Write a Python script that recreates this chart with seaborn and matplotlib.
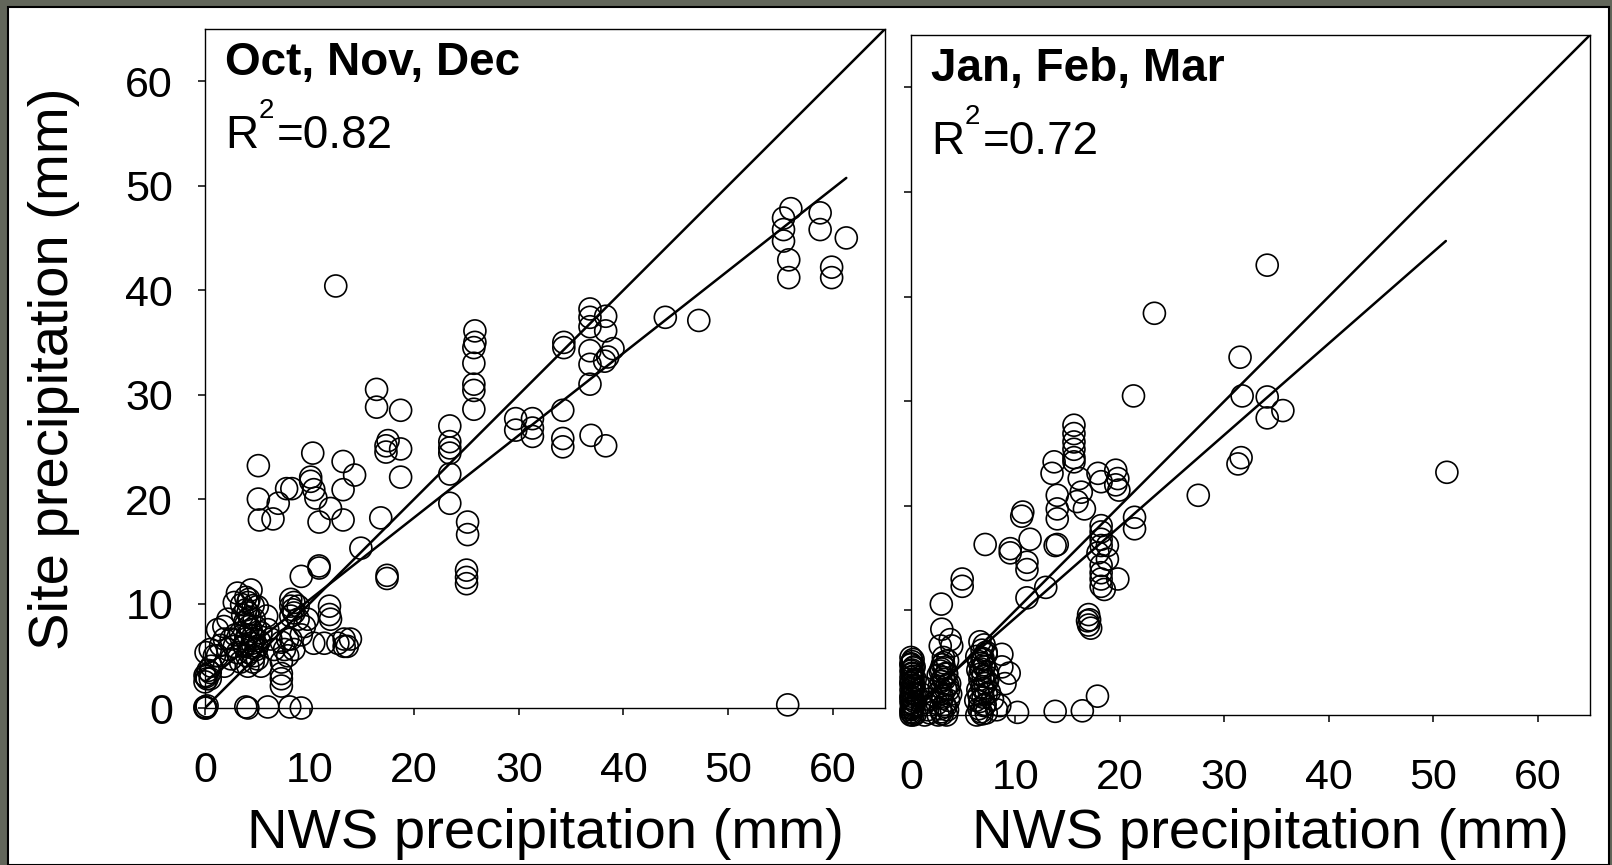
import matplotlib

matplotlib.use("Agg")

import matplotlib.pyplot as plt
import numpy as np
import seaborn as sns
from matplotlib.patches import Rectangle

# Oct, Nov, Dec: NWS precipitation vs site precipitation (mm)
ond_nws = [
    0, 0, 0.1, 0.2, 3.9, 4.1, 6.0, 8.1, 9.2, 55.7,
    0, 0, 0.2, 0.1, 0.5, 0.5, 0.6, 0.5, 0.9, 1.2, 1.5, 1.2, 1.8, 2.2, 1.85, 1.85, 2.2,
    2.5, 2.5, 2.8, 2.8, 3.1, 3.1, 3.4, 3.4, 3.8, 3.8, 3.9, 3.9, 4.1, 4.1, 4.1, 4.2, 4.2,
    4.2, 4.4, 4.4, 4.6, 4.6, 4.7, 4.7, 4.7, 4.9, 5.0, 5.0, 5.0, 5.35, 5.35, 5.9, 6.0,
    6.3, 6.6,
    3.6, 3.9, 4.3, 4.5, 4.0, 3.7, 4.4, 4.8, 3.5, 4.1, 4.6, 3.9, 2.9, 5.2, 0.1, 0.3,
    7.3, 7.3, 7.3, 7.3, 7.3, 7.6, 7.9, 7.9,
    8.2, 8.5, 9.2, 8.2, 8.5, 8.2, 8.4, 8.5, 8.9, 8.2, 8.9, 9.8, 9.5, 9.2, 10.9,
    11.9, 11.9, 12.0, 10.4, 11.4, 12.7, 13.3, 13.6, 13.3, 13.9,
    5.1, 5.1, 5.2, 6.5, 7.0, 7.8, 8.3,
    10.3, 13.2, 14.3, 13.2, 10.1, 10.1, 10.4, 10.6, 12.0, 13.2, 10.9, 16.8, 14.9, 10.9,
    12.5,
    16.4, 16.4, 18.7, 17.5, 17.3, 17.3, 18.7, 18.7, 17.4, 17.4,
    23.4, 23.4, 23.4, 23.4, 23.4, 23.4, 25.1, 25.1, 25.0, 25.0, 25.0,
    25.8, 25.8, 25.7, 25.7, 25.7, 25.7, 25.7,
    29.7, 29.7, 31.3, 31.3, 31.3,
    34.3, 34.3, 34.2, 34.2, 34.2,
    36.8, 36.8, 38.3, 36.8, 38.3, 36.8, 36.8, 39.0, 38.2, 38.5, 36.8, 36.9, 38.3,
    44.0, 47.2,
    56.0, 55.3, 55.3, 55.3, 55.8, 55.8, 58.8, 58.8, 61.3, 59.9, 59.9,
]
ond_site = [
    0, 0.1, 0, 0.2, 0.1, 0, 0.1, 0.1, 0, 0.3,
    2.5, 3.1, 2.8, 5.3, 3.4, 2.8, 4.0, 5.6, 5.0, 5.0, 6.0, 7.5, 7.8, 8.5, 6.6, 4.0, 5.6,
    4.7, 6.6, 5.9, 10.1, 11.0, 5.3, 7.2, 4.4, 8.2, 5.9, 9.4, 6.6, 10.1, 9.1, 4.0, 10.4, 7.8,
    5.3, 11.3, 7.5, 9.8, 6.9, 8.5, 6.6, 5.0, 5.6, 9.7, 5.9, 4.7, 7.2, 4.0, 8.8, 7.5,
    6.6, 5.6,
    8.9, 8.0, 8.7, 6.2, 5.0, 6.0, 5.8, 7.8, 9.9, 7.0, 4.4, 10.6, 7.0, 6.4, 3.0, 3.6,
    6.3, 4.4, 3.3, 2.8, 2.1, 5.6, 6.6, 5.0,
    6.6, 5.6, 7.0, 9.75, 10.1, 10.4, 9.4, 9.1, 9.75, 8.8, 8.5, 8.5, 7.8, 12.6, 13.6,
    9.75, 8.95, 8.5, 6.2, 6.2, 6.2, 6.6, 5.9, 5.9, 6.6,
    23.2, 20.0, 18.0, 18.1, 19.6, 21.0, 21.0,
    24.4, 23.6, 22.3, 20.9, 22.1, 21.7, 20.9, 20.1, 19.1, 18.0, 17.8, 18.2, 15.3, 13.4,
    40.4,
    30.5, 28.8, 28.5, 25.6, 25.1, 24.5, 24.8, 22.1, 12.7, 12.4,
    27.0, 25.5, 24.9, 24.4, 22.4, 19.6, 17.8, 16.6, 13.2, 12.5, 11.9,
    36.1, 35.0, 34.5, 33.0, 31.0, 30.4, 28.6,
    27.7, 26.6, 27.7, 26.8, 26.0,
    35.0, 34.5, 28.5, 25.8, 25.0,
    38.2, 37.4, 37.5, 36.5, 36.1, 34.2, 32.9, 34.4, 33.2, 33.6, 31.0, 26.1, 25.1,
    37.4, 37.1,
    47.8, 46.9, 45.8, 44.7, 42.9, 41.2, 47.4, 45.8, 45.0, 42.2, 41.2,
]

# Jan, Feb, Mar
jfm_nws = [
    0, 0.2, 0, 0.1, 0.3, 0, 0.2, 0, 0.1, 0, 0.3, 0, 0.2, 0, 0.1, 0, 0.2, 0, 0.1, 0,
    0.1, 0, 0.2, 0.1, 0, 0.3, 0.1, 0, 0.2, 0.1, 0, 0.2,
    0.4, 0.1, 0.3, 0.5, 0.2, 0.4, 0.1, 0.3,
    1.3, 1.6, 1.4, 1.0, 1.8, 1.2, 1.7,
    2.6, 3.0, 3.4, 2.8, 3.2, 3.6, 3.0, 2.7, 3.3, 3.5, 2.9, 3.1, 3.4, 2.8, 3.2, 3.0, 3.5, 3.1,
    2.9, 3.3, 3.0, 3.6, 2.7, 3.2, 3.4, 2.9, 3.1, 3.5, 3.8, 2.5, 3.7, 2.6,
    6.3, 6.8, 7.2, 6.5, 7.0, 6.6, 6.9, 7.2, 6.4, 6.8, 7.1, 6.6, 6.9, 7.3, 6.7, 7.0, 6.5,
    6.9, 7.2, 6.8, 7.0, 6.6, 8.2, 7.8, 8.5,
    6.7, 7.1, 6.5, 6.9, 7.3, 6.6, 7.0, 6.8, 7.2, 6.4, 7.5, 6.2, 7.4, 6.3,
    10.2, 13.8, 16.4, 17.85, 8.7, 8.7, 9.4, 9.0,
    2.8, 3.9, 3.75, 2.95, 2.9, 4.9, 4.9, 7.1, 9.5, 11.1, 11.1, 13.8, 12.9, 11.1,
    17.0, 17.1, 17.0, 17.2, 16.9,
    18.2, 18.2, 18.2, 18.8, 19.8, 17.9, 18.8, 18.2, 18.5,
    18.2, 18.2, 18.2, 18.2,
    21.4, 21.4,
    19.6, 19.8, 19.6, 19.9, 17.9, 18.2, 16.1, 16.3, 15.9, 16.6,
    15.6, 15.6, 15.6, 15.6, 15.6, 15.6,
    13.7, 13.5, 14.0, 14.0, 14.0,
    10.7, 10.6, 11.4, 14.0, 9.5,
    23.3, 31.5, 21.3, 31.7, 34.1, 35.6, 34.1, 31.6, 31.3, 27.5, 51.3, 34.1,
]
jfm_site = [
    0, 0, 0.3, 0.6, 0.9, 1.2, 1.5, 1.8, 2.1, 2.4, 2.7, 3.0, 3.3, 3.6, 3.9, 4.2, 4.5, 4.8, 5.1, 5.5,
    0.2, 0.5, 0.8, 1.1, 1.6, 2.0, 2.6, 3.1, 3.7, 4.3, 4.9, 5.3,
    0.1, 0.7, 1.3, 1.9, 2.8, 3.4, 4.0, 4.6,
    0, 0.5, 1.2, 2.0, 0.2, 2.6, 1.5,
    0, 0.1, 0, 0.6, 1.0, 1.4, 1.8, 2.2, 2.5, 2.9, 3.2, 3.6, 3.9, 4.2, 4.5, 4.8, 5.2, 5.5,
    0.3, 0.8, 1.6, 2.4, 2.7, 3.4, 4.0, 4.4, 5.0, 0.5, 2.0, 1.1, 3.0, 3.8,
    0, 0.1, 0.2, 0.6, 0.9, 1.3, 1.7, 2.0, 2.4, 2.7, 3.0, 3.4, 3.7, 4.1, 4.4, 4.8, 5.1,
    5.4, 5.8, 6.2, 6.7, 7.0, 0.5, 1.5, 0.9,
    0.3, 1.0, 1.9, 2.5, 3.2, 3.9, 4.6, 5.3, 6.0, 4.3, 2.2, 1.4, 3.6, 5.6,
    0.25, 0.35, 0.4, 1.8, 5.8, 4.6, 4.0, 3.0,
    6.6, 6.6, 7.2, 8.2, 10.6, 13.0, 12.3, 16.3, 15.5, 14.6, 13.9, 16.2, 12.2, 11.2,
    9.6, 9.1, 8.6, 8.3, 9.0,
    14.3, 13.6, 13.0, 14.9, 13.0, 15.5, 16.2, 12.3, 12.0,
    18.1, 17.5, 16.8, 16.2,
    18.9, 17.8,
    23.4, 22.6, 22.0, 21.5, 23.1, 22.3, 22.6, 21.3, 20.4, 19.7,
    27.7, 26.9, 26.1, 25.4, 24.6, 24.2,
    24.2, 23.1, 21.0, 19.7, 18.75,
    19.4, 19.0, 16.8, 16.3, 15.9,
    38.4, 34.2, 30.5, 30.5, 30.4, 29.1, 28.4, 24.6, 24.0, 21.0, 23.2, 43.0,
]

# fitted lines: intercept, slope, last NWS value
ond_fit = (2.5, 0.787, 61.3)
jfm_fit = (0.56, 0.874, 51.2)
ond_r2 = "0.82"
jfm_r2 = "0.72"
axis_max = 65
tick_values = [0, 10, 20, 30, 40, 50, 60]

sns.set_style("ticks")
plt.rcParams["font.family"] = ["Liberation Sans", "DejaVu Sans"]
plt.rcParams["text.color"] = "black"
plt.rcParams["axes.labelcolor"] = "black"
plt.rcParams["xtick.color"] = "black"
plt.rcParams["ytick.color"] = "black"

fig = plt.figure(figsize=(16.12, 8.65), dpi=100, facecolor="#62665a")
fig.add_artist(
    Rectangle((8 / 1612, 0), 1601 / 1612, 1 - 7 / 865, transform=fig.transFigure,
              facecolor="white", edgecolor="black", linewidth=1.5, zorder=-5)
)

ax_ond = fig.add_axes([205 / 1612, 1 - 708 / 865, 680 / 1612, 679 / 865])
ax_jfm = fig.add_axes([911 / 1612, 1 - 715 / 865, 679 / 1612, 680 / 865])


def draw_panel(ax, nws, site, fit, season, r2):
    sns.scatterplot(x=nws, y=site, ax=ax, s=250, marker="o", facecolors="none",
                    edgecolor="black", linewidth=1.2, zorder=2, clip_on=False)
    one_to_one = [0, axis_max]
    sns.lineplot(x=one_to_one, y=one_to_one, ax=ax, color="black", linewidth=1.8, zorder=3)
    intercept, slope, x_end = fit
    fit_x = np.array([0, x_end])
    sns.lineplot(x=fit_x, y=intercept + slope * fit_x, ax=ax, color="black", linewidth=1.8, zorder=3)

    ax.set_xlim(0, axis_max)
    ax.set_ylim(0, axis_max)
    ax.set_xticks(tick_values)
    ax.set_yticks(tick_values)
    ax.tick_params(direction="out", length=5, width=1.1, color="black", labelsize=31)
    ax.tick_params(axis="x", pad=26)
    ax.tick_params(axis="y", pad=18)
    for spine in ax.spines.values():
        spine.set_linewidth(1.0)
        spine.set_color("black")

    ax.text(0.03, 0.932, season, transform=ax.transAxes, fontsize=33,
            fontweight="bold", va="baseline", ha="left")
    # R squared, with a raised "2" as in the original slide
    ax.annotate("R", xy=(0.03, 0.825), xycoords="axes fraction", fontsize=33,
                va="baseline", ha="left")
    ax.annotate("2", xy=(0.03, 0.825), xycoords="axes fraction", xytext=(24, 21.5),
                textcoords="offset points", fontsize=20, va="baseline", ha="left")
    ax.annotate("=" + r2, xy=(0.03, 0.825), xycoords="axes fraction", xytext=(37, 0),
                textcoords="offset points", fontsize=33, va="baseline", ha="left")


draw_panel(ax_ond, ond_nws, ond_site, ond_fit, "Oct, Nov, Dec", ond_r2)
draw_panel(ax_jfm, jfm_nws, jfm_site, jfm_fit, "Jan, Feb, Mar", jfm_r2)

ax_ond.set_ylabel("Site precipitation (mm)", fontsize=40.5, va="baseline")
ax_ond.yaxis.set_label_coords(-0.2015, 0.5)
ax_ond.set_xlabel("NWS precipitation (mm)", fontsize=40.5, va="baseline")
ax_ond.xaxis.set_label_coords(0.5, -0.206)

ax_jfm.tick_params(axis="y", labelleft=False)
ax_jfm.set_ylabel("")
ax_jfm.set_xlabel("NWS precipitation (mm)", fontsize=40.5, va="baseline")
ax_jfm.xaxis.set_label_coords(0.530, -0.1956)

fig.savefig("out.png", dpi=100, facecolor=fig.get_facecolor())
